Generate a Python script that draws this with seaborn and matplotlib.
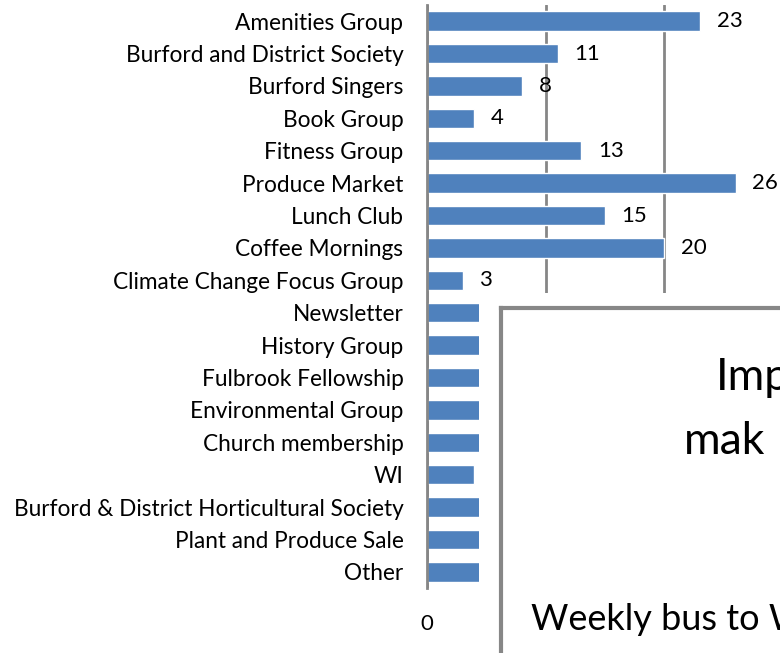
import matplotlib
matplotlib.use("Agg")
import matplotlib.pyplot as plt
from matplotlib.patches import Rectangle
import seaborn as sns

groups = [
    "Amenities Group", "Burford and District Society", "Burford Singers",
    "Book Group", "Fitness Group", "Produce Market", "Lunch Club",
    "Coffee Mornings", "Climate Change Focus Group", "Newsletter",
    "History Group", "Fulbrook Fellowship", "Environmental Group",
    "Church membership", "WI", "Burford & District Horticultural Society",
    "Plant and Produce Sale", "Other",
]
counts = [23, 11, 8, 4, 13, 26, 15, 20, 3, 5, 5, 5, 5, 5, 4, 5, 5, 5]
x_ticks = [0, 10, 20]
x_tick_labels = ["0", "", ""]  # 10 and 20 sit under the second chart

sns.set_style("white")
plt.rcParams["font.family"] = ["Lato", "DejaVu Sans"]

W, H = 780, 653
fig = plt.figure(figsize=(7.8, 6.53), dpi=100)
ax = fig.add_axes([427 / W, (H - 588) / H, 356 / W, 583 / H])

sns.barplot(x=counts, y=groups, orient="h", color="#4F81BD", saturation=1,
            width=0.6, ax=ax)
ax.bar_label(ax.containers[0], padding=12, fontsize=16, color="black")

ax.set_xlim(0, 30)
ax.set_xticks(x_ticks)
ax.set_xticklabels(x_tick_labels)
ax.set_xlabel("")
ax.set_ylabel("")
ax.set_axisbelow(True)
ax.xaxis.grid(True, color="#868686", linewidth=2)
ax.yaxis.grid(False)
for side in ["top", "right", "bottom"]:
    ax.spines[side].set_visible(False)
ax.spines["left"].set_color("#868686")
ax.spines["left"].set_linewidth(2)
ax.tick_params(axis="y", length=0, pad=17, labelsize=16.3, labelcolor="black")
ax.tick_params(axis="x", length=0, pad=19, labelsize=16, labelcolor="black")

# second chart sitting on top of the lower right corner
fig.add_artist(Rectangle((479 / W, 0), 1, (H - 293) / H,
                         transform=fig.transFigure, facecolor="white",
                         edgecolor="none", zorder=1))
box = fig.add_axes([501 / W, -0.2, 0.5, (H - 308) / H + 0.2])
box.set_zorder(2)
box.set_xticks([])
box.set_yticks([])
for s in box.spines.values():
    s.set_color("#878787")
    s.set_linewidth(3)

fig.text(716 / W, (H - 390) / H, "Imp", fontsize=32, color="black",
         va="baseline", zorder=3)
fig.text(684 / W, (H - 454) / H, "mak", fontsize=32, color="black",
         va="baseline", zorder=3)
fig.text(531 / W, (H - 630) / H, "Weekly bus to W", fontsize=26,
         color="black", va="baseline", zorder=3)

fig.savefig("out.png", dpi=100)
